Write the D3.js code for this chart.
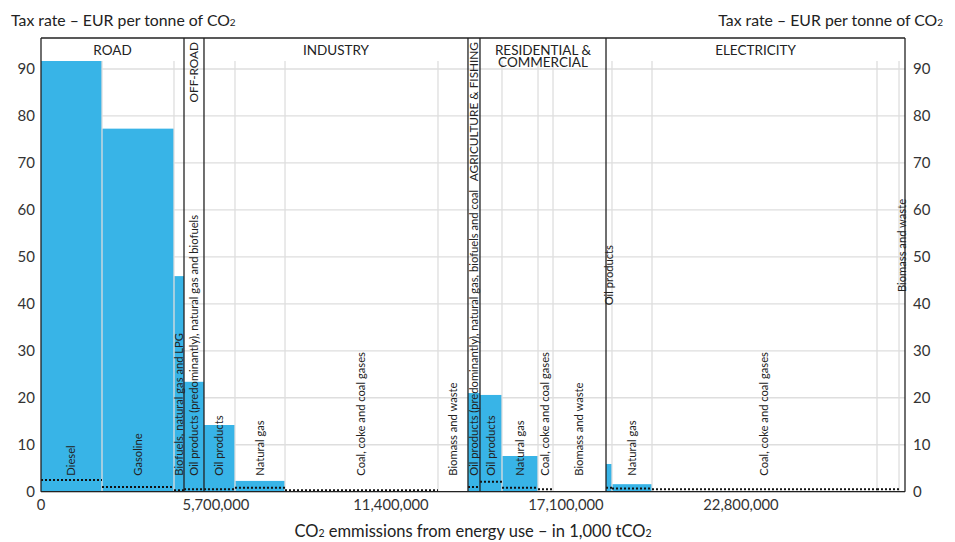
<!DOCTYPE html>
<html>
<head>
<meta charset="utf-8">
<script src="https://cdn.jsdelivr.net/npm/d3@7"></script>
<style>
  body { margin: 0; background: #fff; }
  text { font-family: Lato, "Open Sans", sans-serif; fill: #222; }
</style>
</head>
<body>
<div id="chart"></div>
<script>
// data (emissions in 1,000 tCO2, rates in EUR / tCO2)
const sectors = ["ROAD", "OFF-ROAD", "INDUSTRY", "AGRICULTURE & FISHING", "RESIDENTIAL & COMMERCIAL", "ELECTRICITY"];

const fuelSector = ["ROAD", "ROAD", "ROAD", "OFF-ROAD",
  "INDUSTRY", "INDUSTRY", "INDUSTRY", "INDUSTRY",
  "AGRICULTURE & FISHING",
  "RESIDENTIAL & COMMERCIAL", "RESIDENTIAL & COMMERCIAL", "RESIDENTIAL & COMMERCIAL", "RESIDENTIAL & COMMERCIAL",
  "ELECTRICITY", "ELECTRICITY", "ELECTRICITY", "ELECTRICITY", "ELECTRICITY"];

const fuelNames = ["Diesel", "Gasoline", "Biofuels, natural gas and LPG",
  "Oil products (predominantly), natural gas and biofuels",
  "Oil products", "Natural gas", "Coal, coke and coal gases", "Biomass and waste",
  "Oil products (predominantly), natural gas, biofuels and coal",
  "Oil products", "Natural gas", "Coal, coke and coal gases", "Biomass and waste",
  "Oil products", "Natural gas", "Coal, coke and coal gases", "", "Biomass and waste"];

const emissions = [1987000, 2345000, 326000, 651000,
  1010000, 1629000, 4983000, 977000,
  391000,
  717000, 1173000, 489000, 1726000,
  195000, 1303000, 7329000, 717000, 195000];

const taxRates = [91.7, 77.3, 45.9, 23.4,
  14.2, 2.3, 0.1, 0,
  21.0,
  20.6, 7.6, 0, 0,
  5.9, 1.6, 0, 0, 0];

// dotted line rate (null = none)
const minRates = [2.5, 1.0, 0.3, 0.5,
  0.5, 0.85, 0.3, null,
  1.0,
  2.1, 0.85, 0.5, null,
  0.85, 0.7, 0.5, 0.5, null];

const xTicks = [0, 5700000, 11400000, 17100000, 22800000];
const yTicks = [0, 10, 20, 30, 40, 50, 60, 70, 80, 90];

// labels that sit higher up (in tax rate units)
const raisedLabels = { "13": 39.7, "17": 42.5 };

const width = 955, height = 542;
const left = 41, right = 905, frameTop = 38, gridTop = 61, base = 491.7;

const svg = d3.select("#chart").append("svg")
  .attr("width", width).attr("height", height);

// build segments with cumulative positions
let acc = 0;
const segs = emissions.map((e, i) => {
  const s = { i, sector: fuelSector[i], name: fuelNames[i], x0: acc, x1: acc + e, tax: taxRates[i], min: minRates[i] };
  acc += e;
  return s;
});
const total = acc;

const x = d3.scaleLinear().domain([0, total]).range([left, right]);
const y = d3.scaleLinear().domain([0, 90]).range([base, 69]);

// horizontal grid
svg.append("g").selectAll("line").data(yTicks).enter().append("line")
  .attr("x1", left).attr("x2", right)
  .attr("y1", d => y(d)).attr("y2", d => y(d))
  .style("stroke", "#dedede").style("stroke-width", 1.3);

// bars
svg.append("g").selectAll("rect").data(segs).enter().append("rect")
  .attr("x", d => x(d.x0))
  .attr("width", d => x(d.x1) - x(d.x0))
  .attr("y", d => y(d.tax))
  .attr("height", d => base - y(d.tax))
  .attr("fill", "#38b4e7");

// sector extents
const sectorInfo = sectors.map(s => {
  const ss = segs.filter(d => d.sector === s);
  return { name: s, x0: ss[0].x0, x1: ss[ss.length - 1].x1 };
});

// vertical grey lines at fuel boundaries inside sectors
const inner = segs.filter((d, k) => k < segs.length - 1 && segs[k + 1].sector === d.sector);
svg.append("g").selectAll("line").data(inner).enter().append("line")
  .attr("x1", d => x(d.x1)).attr("x2", d => x(d.x1))
  .attr("y1", gridTop).attr("y2", base)
  .style("stroke", "#dedede").style("stroke-width", 1.3);

// dotted lines
svg.append("g").selectAll("line").data(segs.filter(d => d.min !== null)).enter().append("line")
  .attr("x1", d => x(d.x0)).attr("x2", d => x(d.x1))
  .attr("y1", d => y(d.min)).attr("y2", d => y(d.min))
  .style("stroke", "#111").style("stroke-width", 2)
  .style("stroke-dasharray", "2,2");

// frame: top line, sector separators, baseline
svg.append("line").attr("x1", left).attr("x2", right).attr("y1", frameTop).attr("y2", frameTop)
  .style("stroke", "#222").style("stroke-width", 1.3);
const bounds = [0].concat(sectorInfo.map(d => d.x1));
svg.append("g").selectAll("line").data(bounds).enter().append("line")
  .attr("x1", d => x(d)).attr("x2", d => x(d))
  .attr("y1", frameTop).attr("y2", base)
  .style("stroke", "#222").style("stroke-width", 1.3);
svg.append("line").attr("x1", left).attr("x2", right).attr("y1", base).attr("y2", base)
  .style("stroke", "#222").style("stroke-width", 1.3);

// sector headers
sectorInfo.forEach(s => {
  const cx = (x(s.x0) + x(s.x1)) / 2;
  const w = x(s.x1) - x(s.x0);
  if (w < 40) {
    svg.append("text")
      .attr("transform", `translate(${cx},${frameTop + 4}) rotate(-90)`)
      .attr("text-anchor", "end").attr("dy", "0.35em")
      .style("font-size", "11.8px").text(s.name);
  } else if (s.name === "RESIDENTIAL & COMMERCIAL") {
    svg.append("text").attr("x", cx).attr("y", 54.5)
      .attr("text-anchor", "middle").style("font-size", "13.5px").text("RESIDENTIAL &");
    svg.append("text").attr("x", cx).attr("y", 67)
      .attr("text-anchor", "middle").style("font-size", "13.5px").text("COMMERCIAL");
  } else {
    svg.append("text").attr("x", cx).attr("y", 54.5)
      .attr("text-anchor", "middle").style("font-size", "13.5px").text(s.name);
  }
});

// fuel labels
svg.append("g").selectAll("text").data(segs.filter(d => d.name)).enter().append("text")
  .attr("transform", d => {
    const cx = (x(d.x0) + x(d.x1)) / 2;
    const ly = raisedLabels[d.i] !== undefined ? y(raisedLabels[d.i]) : base - 16;
    return `translate(${cx},${ly}) rotate(-90)`;
  })
  .attr("dy", "0.35em")
  .style("font-size", "11.2px")
  .text(d => d.name);

// y axis labels both sides
svg.append("g").selectAll("text").data(yTicks).enter().append("text")
  .attr("x", 35).attr("y", d => y(d)).attr("dy", "0.35em")
  .attr("text-anchor", "end").style("font-size", "15px").style("fill", "#333")
  .text(d => d);
svg.append("g").selectAll("text").data(yTicks).enter().append("text")
  .attr("x", 913).attr("y", d => y(d)).attr("dy", "0.35em")
  .attr("text-anchor", "start").style("font-size", "15px").style("fill", "#333")
  .text(d => d);

// x tick labels
svg.append("g").selectAll("text").data(xTicks).enter().append("text")
  .attr("x", d => x(d)).attr("y", 510)
  .attr("text-anchor", "middle").style("font-size", "14.8px").style("fill", "#333")
  .text(d => d3.format(",")(d));

// titles
function co2Text(sel, before) {
  sel.append("tspan").text(before + "CO");
  sel.append("tspan").style("font-size", "10px").text("2");
}
co2Text(svg.append("text").attr("x", 11).attr("y", 26).style("font-size", "15.8px"),
  "Tax rate – EUR per tonne of ");
co2Text(svg.append("text").attr("x", 943).attr("y", 26).attr("text-anchor", "end").style("font-size", "15.8px"),
  "Tax rate – EUR per tonne of ");

const xl = svg.append("text").attr("x", 473).attr("y", 537)
  .attr("text-anchor", "middle").style("font-size", "16.5px");
xl.append("tspan").text("CO");
xl.append("tspan").style("font-size", "10.5px").text("2");
xl.append("tspan").text(" emmissions from energy use – in 1,000 tCO");
xl.append("tspan").style("font-size", "10.5px").text("2");
</script>
</body>
</html>
